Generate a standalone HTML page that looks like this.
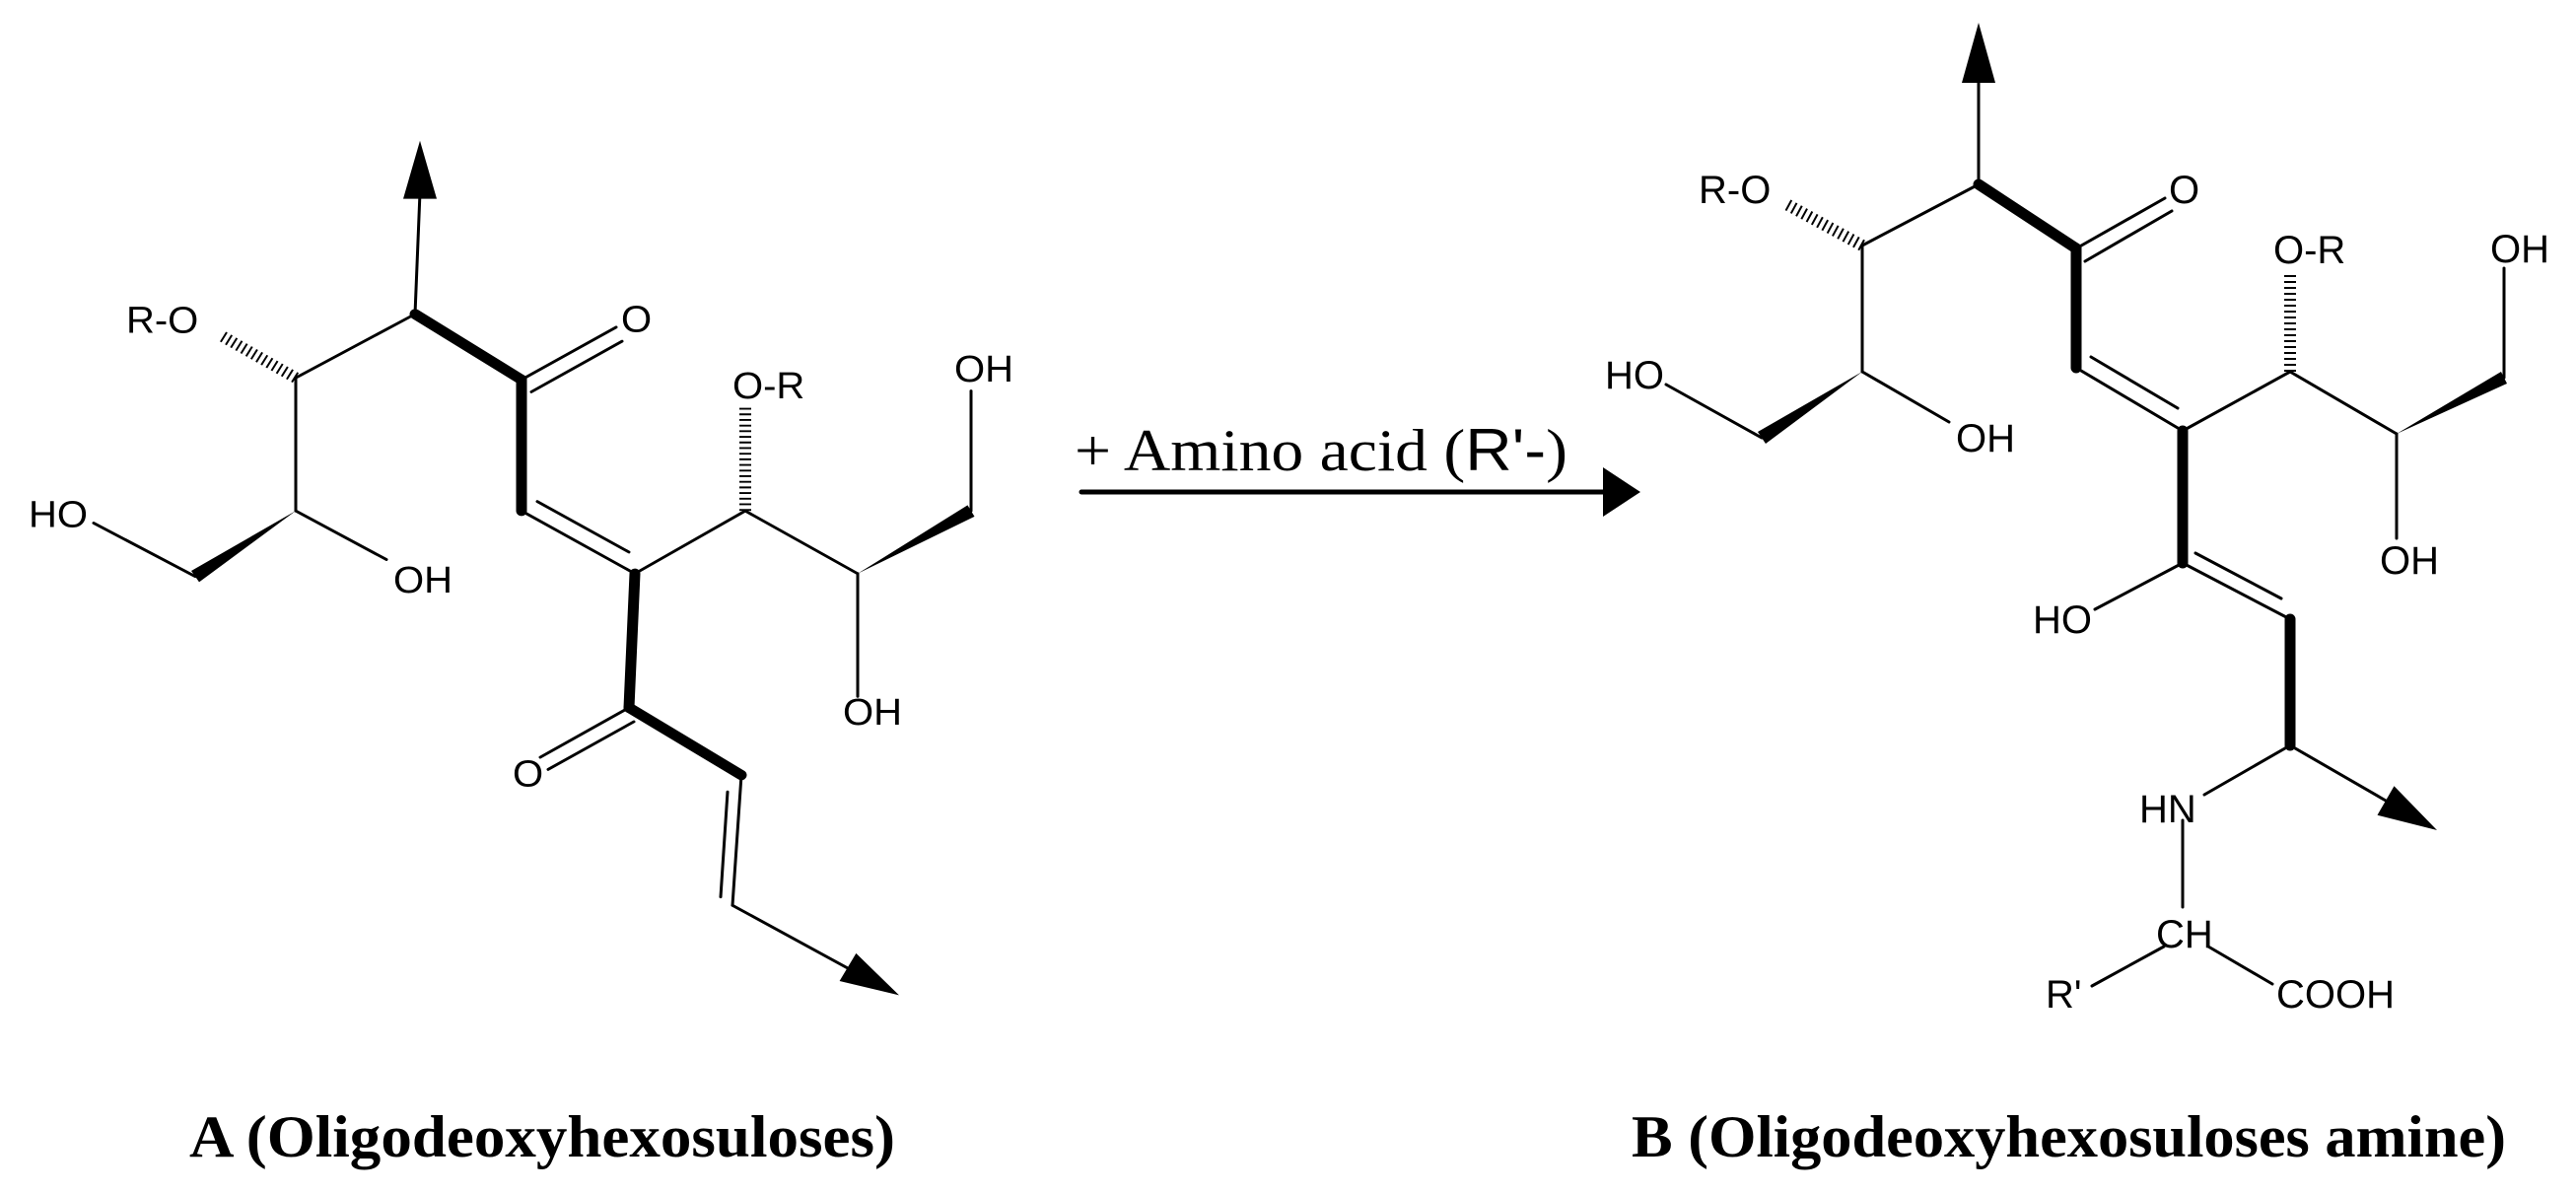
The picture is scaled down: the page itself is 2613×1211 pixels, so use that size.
<!DOCTYPE html>
<html><head><meta charset="utf-8"><style>html,body{margin:0;padding:0;background:#fff}svg{display:block}</style></head>
<body>
<svg width="2613" height="1211" viewBox="0 0 2613 1211" xmlns="http://www.w3.org/2000/svg">
<g transform="translate(0,100) scale(1,0.9503) translate(0,-100)">
<g stroke="#000" stroke-width="3" fill="none" stroke-linecap="round">
<line x1="426" y1="200" x2="421" y2="330"/>
<line x1="421" y1="330" x2="529" y2="400" stroke-width="11"/>
<line x1="529" y1="400" x2="625" y2="344"/>
<line x1="539" y1="413" x2="631" y2="359"/>
<line x1="421" y1="330" x2="300" y2="398"/>
<line x1="300" y1="398" x2="226" y2="354" stroke-width="12" stroke-dasharray="2,4" stroke-linecap="butt"/>
<line x1="300" y1="398" x2="300" y2="540"/>
<line x1="300" y1="540" x2="392" y2="592"/>
<line x1="198" y1="610" x2="95" y2="553"/>
<line x1="529" y1="400" x2="529" y2="540" stroke-width="11"/>
<line x1="529" y1="540" x2="644" y2="607"/>
<line x1="545" y1="530" x2="638" y2="584"/>
<line x1="644" y1="607" x2="756" y2="540"/>
<line x1="756" y1="540" x2="756" y2="428" stroke-width="12" stroke-dasharray="2,4" stroke-linecap="butt"/>
<line x1="756" y1="540" x2="870" y2="607"/>
<line x1="870" y1="607" x2="870" y2="738"/>
<line x1="985" y1="540" x2="985" y2="412"/>
<line x1="644" y1="607" x2="638" y2="750" stroke-width="11"/>
<line x1="638" y1="750" x2="548" y2="803"/>
<line x1="643" y1="765" x2="556" y2="816"/>
<line x1="638" y1="750" x2="752" y2="822" stroke-width="11"/>
<line x1="752" y1="822" x2="743" y2="961"/>
<line x1="738" y1="840" x2="731" y2="952"/>
<line x1="743" y1="961" x2="865" y2="1031"/>
</g>
<g fill="#000" stroke="none">
<polygon points="426,145 409,207 443,207"/>
<polygon points="912,1057 851.6,1041.8 868.4,1012.2"/>
<polygon points="300,540 202,616 194,604"/>
<polygon points="870,607 988.5,546 981.5,534"/>
</g>
<g font-family="Liberation Sans, sans-serif" font-size="40" fill="#000">
<text x="128" y="350">R-O</text>
<text x="630" y="349">O</text>
<text x="399" y="627">OH</text>
<text x="29" y="557">HO</text>
<text x="743" y="420">O-R</text>
<text x="855" y="768">OH</text>
<text x="968" y="402">OH</text>
<text x="520" y="834">O</text>
</g>
</g>
<g stroke="#000" stroke-width="3" fill="none" stroke-linecap="round">
<!-- RIGHT STRUCTURE -->
<line x1="2007" y1="80" x2="2007" y2="187"/>
<line x1="2007" y1="187" x2="2106" y2="252" stroke-width="11"/>
<line x1="2106" y1="252" x2="2196" y2="201"/>
<line x1="2115" y1="265" x2="2203" y2="214"/>
<line x1="2007" y1="187" x2="1889" y2="249"/>
<line x1="1889" y1="249" x2="1812" y2="207" stroke-width="12" stroke-dasharray="2,4" stroke-linecap="butt"/>
<line x1="1889" y1="249" x2="1889" y2="377"/>
<line x1="1889" y1="377" x2="1977" y2="428"/>
<line x1="1787" y1="444" x2="1690" y2="390"/>
<line x1="2106" y1="252" x2="2106" y2="373" stroke-width="11"/>
<line x1="2106" y1="373" x2="2214" y2="437"/>
<line x1="2121" y1="362" x2="2209" y2="414"/>
<line x1="2214" y1="437" x2="2323" y2="377"/>
<line x1="2323" y1="377" x2="2323" y2="275" stroke-width="12" stroke-dasharray="2,4" stroke-linecap="butt"/>
<line x1="2323" y1="377" x2="2431" y2="440"/>
<line x1="2431" y1="440" x2="2431" y2="546"/>
<line x1="2540" y1="383" x2="2540" y2="272"/>
<line x1="2214" y1="437" x2="2214" y2="571" stroke-width="11"/>
<line x1="2214" y1="571" x2="2323" y2="628"/>
<line x1="2227" y1="561" x2="2314" y2="607"/>
<line x1="2214" y1="571" x2="2125" y2="618"/>
<line x1="2323" y1="628" x2="2323" y2="756" stroke-width="11"/>
<line x1="2323" y1="756" x2="2420" y2="812"/>
<line x1="2323" y1="756" x2="2236" y2="806"/>
<line x1="2214" y1="832" x2="2214" y2="920"/>
<line x1="2195" y1="960" x2="2122" y2="1000"/>
<line x1="2240" y1="960" x2="2305" y2="998"/>
<!-- reaction arrow -->
<line x1="1097" y1="499" x2="1630" y2="499" stroke-width="5"/>
</g>
<g fill="#000" stroke="none">
<polygon points="2007,23 1990,84 2024,84"/>
<polygon points="2472,842 2411.5,826.7 2428.5,797.3"/>
<polygon points="1664,499 1626,474 1626,524"/>
<polygon points="1889,377 1791,450 1783,438"/>
<polygon points="2431,440 2543,389 2537,377"/>
</g>
<g font-family="Liberation Sans, sans-serif" font-size="40" fill="#000">
<text x="1723" y="206">R-O</text>
<text x="2200" y="206">O</text>
<text x="1628" y="394">HO</text>
<text x="1984" y="458">OH</text>
<text x="2306" y="267">O-R</text>
<text x="2526" y="266">OH</text>
<text x="2414" y="582">OH</text>
<text x="2062" y="642">HO</text>
<text x="2170" y="834">HN</text>
<text x="2187" y="961">CH</text>
<text x="2075" y="1022">R'</text>
<text x="2309" y="1022">COOH</text>
</g>
<text x="1090" y="477" font-family="Liberation Serif, serif" font-size="60" textLength="500" lengthAdjust="spacingAndGlyphs">+ Amino acid (<tspan font-family="Liberation Sans, sans-serif">R'-</tspan>)</text>
<text x="192" y="1173" font-family="Liberation Serif, serif" font-weight="bold" font-size="60" textLength="716" lengthAdjust="spacingAndGlyphs">A (Oligodeoxyhexosuloses)</text>
<text x="1655" y="1173" font-family="Liberation Serif, serif" font-weight="bold" font-size="60" textLength="887" lengthAdjust="spacingAndGlyphs">B (Oligodeoxyhexosuloses amine)</text>
</svg>
</body></html>
